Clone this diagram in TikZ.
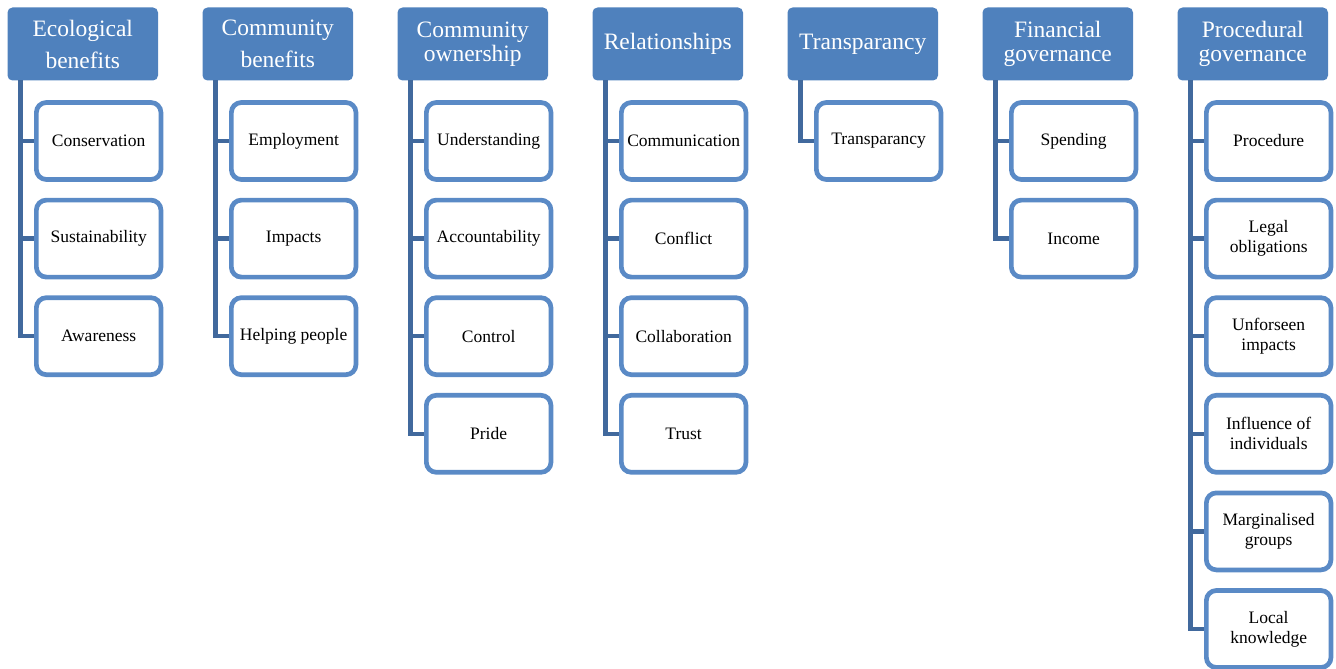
\documentclass[tikz,border=0pt]{standalone}
\usepackage{fontspec}
\setmainfont{Liberation Serif}
\definecolor{hdrfill}{HTML}{4F81BD}
\definecolor{bord}{HTML}{5A8AC6}
\definecolor{conn}{HTML}{41699D}
\begin{document}
\begin{tikzpicture}[x=1pt,y=-1pt,
  hdr/.style={fill=hdrfill,rounded corners=5pt,minimum width=150.5pt,minimum height=73pt,inner sep=0pt,align=center,text=white,font=\fontsize{23.5}{24}\selectfont},
  hdrwide/.style={hdr,font=\fontsize{23.5}{32}\selectfont},
  item/.style={draw=bord,line width=4.7pt,fill=white,rounded corners=10pt,minimum width=124.6pt,minimum height=77pt,inner sep=0pt,align=center,font=\fontsize{17.5}{20}\selectfont},
  conline/.style={draw=conn,line width=4.3pt}]
\useasboundingbox (0,0) rectangle (1336,669);
% headers
\node[hdrwide] (h1) at (82.75,44) {Ecological\\benefits};
\node[hdrwide] (h2) at (277.75,44) {Community\\benefits};
\node[hdr] (h3) at (472.75,44) {Community\\ownership};
\node[hdr] (h4) at (667.75,44) {Relationships};
\node[hdr] (h5) at (862.75,44) {Transparancy};
\node[hdr] (h6) at (1057.75,44) {Financial\\governance};
\node[hdr] (h7) at (1252.75,44) {Procedural\\governance};
% trunk tops
\coordinate (t1) at (20.5,80.5);
\coordinate (t2) at (215.5,80.5);
\coordinate (t3) at (410.5,80.5);
\coordinate (t4) at (605.5,80.5);
\coordinate (t5) at (800.5,80.5);
\coordinate (t6) at (995.5,80.5);
\coordinate (t7) at (1190.5,80.5);
% column 1
\node[item] (c11) at (98.65,141) {Conservation};
\node[item] (c12) at (98.65,238.6) {Sustainability};
\node[item] (c13) at (98.65,336.2) {Awareness};
% column 2
\node[item] (c21) at (293.65,141) {Employment};
\node[item] (c22) at (293.65,238.6) {Impacts};
\node[item] (c23) at (293.65,336.2) {Helping people};
% column 3
\node[item] (c31) at (488.65,141) {Understanding};
\node[item] (c32) at (488.65,238.6) {Accountability};
\node[item] (c33) at (488.65,336.2) {Control};
\node[item] (c34) at (488.65,433.8) {Pride};
% column 4
\node[item] (c41) at (683.65,141) {Communication};
\node[item] (c42) at (683.65,238.6) {Conflict};
\node[item] (c43) at (683.65,336.2) {Collaboration};
\node[item] (c44) at (683.65,433.8) {Trust};
% column 5
\node[item] (c51) at (878.65,141) {Transparancy};
% column 6
\node[item] (c61) at (1073.65,141) {Spending};
\node[item] (c62) at (1073.65,238.6) {Income};
% column 7
\node[item] (c71) at (1268.65,141) {Procedure};
\node[item] (c72) at (1268.65,238.6) {Legal\\obligations};
\node[item] (c73) at (1268.65,336.2) {Unforseen\\impacts};
\node[item] (c74) at (1268.65,433.8) {Influence of\\individuals};
\node[item] (c75) at (1268.65,531.4) {Marginalised\\groups};
\node[item] (c76) at (1268.65,629) {Local\\knowledge};
% connectors
\begin{scope}[on background layer/.style={}]
\end{scope}
\path[conline] (t1) |- (c13.west);
\path[conline] (c11.west -| t1) -- (c11.west);
\path[conline] (c12.west -| t1) -- (c12.west);
\path[conline] (t2) |- (c23.west);
\path[conline] (c21.west -| t2) -- (c21.west);
\path[conline] (c22.west -| t2) -- (c22.west);
\path[conline] (t3) |- (c34.west);
\path[conline] (c31.west -| t3) -- (c31.west);
\path[conline] (c32.west -| t3) -- (c32.west);
\path[conline] (c33.west -| t3) -- (c33.west);
\path[conline] (t4) |- (c44.west);
\path[conline] (c41.west -| t4) -- (c41.west);
\path[conline] (c42.west -| t4) -- (c42.west);
\path[conline] (c43.west -| t4) -- (c43.west);
\path[conline] (t5) |- (c51.west);
\path[conline] (t6) |- (c62.west);
\path[conline] (c61.west -| t6) -- (c61.west);
\path[conline] (t7) |- (c76.west);
\path[conline] (c71.west -| t7) -- (c71.west);
\path[conline] (c72.west -| t7) -- (c72.west);
\path[conline] (c73.west -| t7) -- (c73.west);
\path[conline] (c74.west -| t7) -- (c74.west);
\path[conline] (c75.west -| t7) -- (c75.west);
\end{tikzpicture}
\end{document}
